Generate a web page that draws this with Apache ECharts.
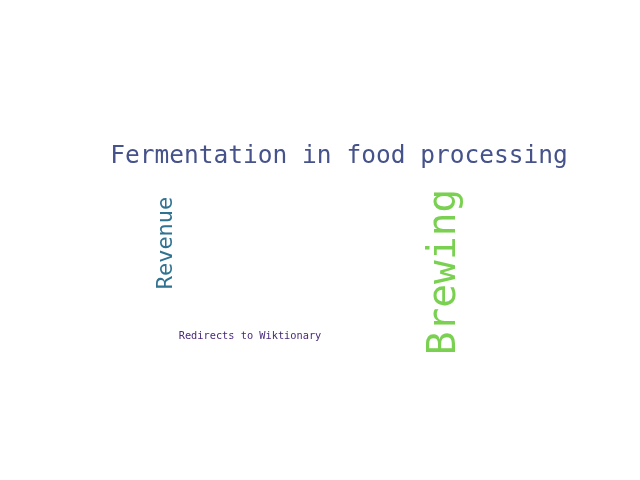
<!DOCTYPE html>
<html>
<head>
<meta charset="utf-8">
<script src="https://cdn.jsdelivr.net/npm/echarts@6/dist/echarts.min.js"></script>
<style>
  html, body { margin: 0; padding: 0; background: #fff; }
  #main { width: 640px; height: 480px; }
</style>
</head>
<body>
<div id="main"></div>
<script>
// words of the cloud and their weights (font size)
var words = ['Fermentation in food processing', 'Brewing', 'Revenue', 'Redirects to Wiktionary'];
var weights = [24.5, 39.5, 22, 10.3];

// layout of the cloud (centre of each word, in pixels) and rotation
var posX = [339, 445, 166, 250];
var posY = [157, 272, 243, 336];
var rotations = [0, 90, 90, 0];
var colors = ['#46538b', '#7ad151', '#2f7391', '#482878'];

var chart = echarts.init(document.getElementById('main'));

var data = words.map(function (w, i) {
  return {
    name: w,
    value: [posX[i], posY[i], weights[i]],
    label: {
      rotate: rotations[i],
      fontSize: weights[i],
      color: colors[i]
    }
  };
});

var option = {
  backgroundColor: '#ffffff',
  animation: false,
  grid: { left: 0, right: 0, top: 0, bottom: 0 },
  xAxis: { type: 'value', min: 0, max: 640, show: false },
  yAxis: { type: 'value', min: 0, max: 480, inverse: true, show: false },
  series: [{
    type: 'scatter',
    symbolSize: 0,
    itemStyle: { opacity: 1 },
    label: {
      show: true,
      position: 'inside',
      fontFamily: 'DejaVu Sans Mono',
      formatter: '{b}'
    },
    data: data
  }]
};

chart.setOption(option);
</script>
</body>
</html>
